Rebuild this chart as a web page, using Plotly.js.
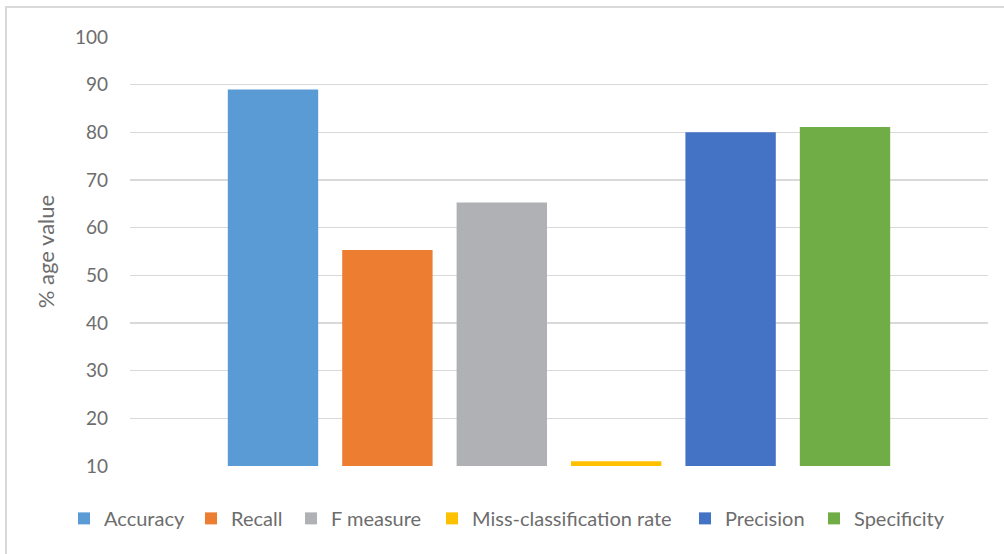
<!DOCTYPE html>
<html>
<head>
<meta charset="utf-8">
<script src="https://cdn.plot.ly/plotly-3.0.1.min.js"></script>
<style>
  html, body { margin: 0; padding: 0; background: #ffffff; }
  #wrap { position: relative; width: 1004px; height: 554px; overflow: hidden; }
  #chart { position: absolute; left: 0; top: 0; width: 1004px; height: 554px; }
  #frame { position: absolute; left: 5px; top: 6px; width: 1010px; height: 560px;
           border-left: 2px solid #d9d9d9; border-top: 2px solid #d9d9d9; pointer-events: none; }
</style>
</head>
<body>
<div id="wrap">
  <div id="chart"></div>
  <div id="frame"></div>
</div>
<script>
// Evaluation metrics of the classifier, in percent
const metrics = ["Accuracy", "Recall", "F measure", "Miss-classification rate", "Precision", "Specificity"];
const values = [89, 55.3, 65.3, 11, 80, 81.1];
const colors = ["#5B9BD5", "#ED7D31", "#B0B1B5", "#FFC000", "#4472C4", "#70AD47"];
const yTicks = [10, 20, 30, 40, 50, 60, 70, 80, 90, 100];

// Left edge (px) of each legend entry along the bottom row
const legendLeftPx = [64, 191, 291, 432, 685, 814];

const W = 1004, H = 554;
const M = { l: 130, r: 16, t: 36.5, b: 87.5 };
const plotW = W - M.l - M.r, plotH = H - M.t - M.b;
const legendRowPx = 519;

const textColor = "#6d6d6d";
const fontFamily = "Lato, 'Open Sans', sans-serif";

const traces = metrics.map((name, i) => ({
  type: "bar",
  name: name,
  x: [""],
  y: [values[i]],
  marker: { color: colors[i] },
  legend: i === 0 ? "legend" : "legend" + (i + 1),
  hoverinfo: "name+y"
}));

const layout = {
  width: W,
  height: H,
  margin: M,
  paper_bgcolor: "#ffffff",
  plot_bgcolor: "#ffffff",
  font: { family: fontFamily, color: textColor, size: 19 },
  barmode: "group",
  bargap: 0.2,
  bargroupgap: 0.21,
  xaxis: {
    showticklabels: false,
    showgrid: false,
    zeroline: false,
    showline: false,
    ticks: ""
  },
  yaxis: {
    range: [10, 100],
    tickvals: yTicks,
    ticktext: yTicks.map(String),
    showgrid: true,
    gridcolor: "#d9d9d9",
    gridwidth: 1.5,
    zeroline: false,
    showline: false,
    ticks: "",
    ticklabelstandoff: 21,
    tickfont: { family: fontFamily, color: textColor, size: 19 },
    title: { text: "% age value", font: { family: fontFamily, color: textColor, size: 22 }, standoff: 14 }
  },
  showlegend: true
};

legendLeftPx.forEach((px, i) => {
  const key = i === 0 ? "legend" : "legend" + (i + 1);
  layout[key] = {
    orientation: "h",
    x: (px - M.l) / plotW,
    xanchor: "left",
    y: (M.t + plotH - legendRowPx) / plotH,
    yanchor: "middle",
    bgcolor: "rgba(0,0,0,0)",
    font: { family: fontFamily, color: textColor, size: 20 },
    itemclick: false,
    itemdoubleclick: false
  };
});

Plotly.newPlot("chart", traces, layout, { displayModeBar: false, staticPlot: true });
</script>
</body>
</html>
